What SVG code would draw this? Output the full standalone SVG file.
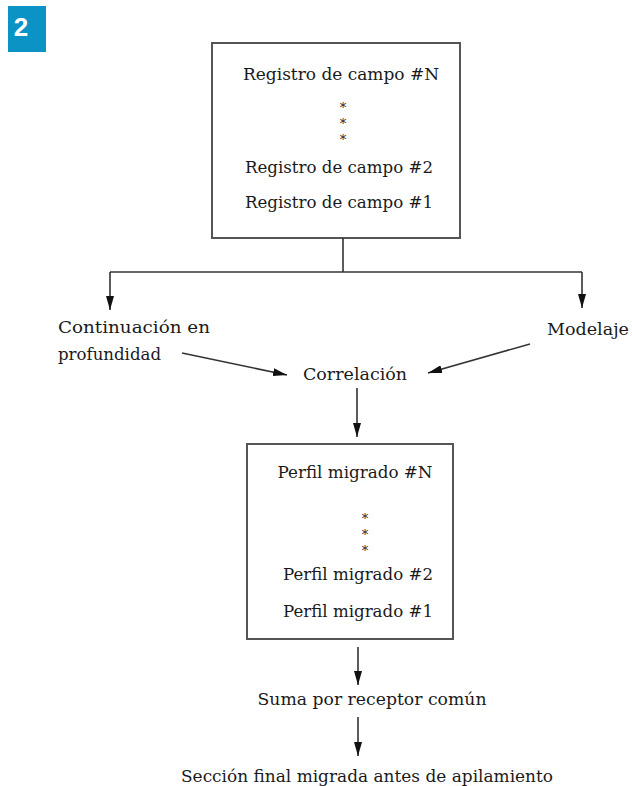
<svg xmlns="http://www.w3.org/2000/svg" width="632" height="786" viewBox="0 0 632 786">
<style>
.t{font-family:"DejaVu Serif","Liberation Serif",serif;font-size:16.5px;fill:#1a1a1a}
.c{text-anchor:middle}
.box{fill:#fff;stroke:#555;stroke-width:2}
.ln{fill:none;stroke:#333;stroke-width:1.6}
.dot{font-family:"DejaVu Serif",serif;font-size:13px;fill:#1a1a1a;text-anchor:middle}
</style>
<defs>
<marker id="ah" viewBox="0 0 14 8" refX="14" refY="4" markerWidth="14" markerHeight="8" markerUnits="userSpaceOnUse" orient="auto">
<path d="M0,0 L14,4 L0,8 Z" fill="#111"/>
</marker>
</defs>
<rect width="632" height="786" fill="#fff"/>
<g id="badge">
<rect x="8" y="6" width="38" height="46" fill="#0a93c4"/>
<text x="21" y="36" font-family="Liberation Sans,Arial,sans-serif" font-weight="bold" font-size="26" fill="#fff" text-anchor="middle">2</text>
</g>
<g id="registros">
<rect class="box" x="212" y="43" width="248" height="195"/>
<text class="t c" x="341" y="80" textLength="196" lengthAdjust="spacingAndGlyphs">Registro de campo #N</text>
<text class="dot" x="343" y="112">*</text>
<text class="dot" x="343" y="128">*</text>
<text class="dot" x="343" y="144">*</text>
<text class="t c" x="339" y="173" textLength="188" lengthAdjust="spacingAndGlyphs">Registro de campo #2</text>
<text class="t c" x="339" y="208" textLength="188" lengthAdjust="spacingAndGlyphs">Registro de campo #1</text>
</g>
<g id="continuacion">
<text class="t" x="58" y="333" textLength="152" lengthAdjust="spacingAndGlyphs">Continuación en</text>
<text class="t" x="58" y="360" textLength="103" lengthAdjust="spacingAndGlyphs">profundidad</text>
</g>
<g id="modelaje">
<text class="t" x="547" y="335" textLength="82" lengthAdjust="spacingAndGlyphs">Modelaje</text>
</g>
<g id="correlacion">
<text class="t" x="303" y="380" textLength="104" lengthAdjust="spacingAndGlyphs">Correlación</text>
</g>
<g id="perfiles">
<rect class="box" x="247" y="444" width="206" height="195"/>
<text class="t c" x="355" y="478" textLength="155" lengthAdjust="spacingAndGlyphs">Perfil migrado #N</text>
<text class="dot" x="365" y="523">*</text>
<text class="dot" x="365" y="539">*</text>
<text class="dot" x="365" y="555">*</text>
<text class="t c" x="358" y="580" textLength="150" lengthAdjust="spacingAndGlyphs">Perfil migrado #2</text>
<text class="t c" x="358" y="617" textLength="150" lengthAdjust="spacingAndGlyphs">Perfil migrado #1</text>
</g>
<g id="suma">
<text class="t c" x="372" y="705" textLength="229" lengthAdjust="spacingAndGlyphs">Suma por receptor común</text>
</g>
<g id="seccion">
<text class="t c" x="367" y="782" textLength="372" lengthAdjust="spacingAndGlyphs">Sección final migrada antes de apilamiento</text>
</g>
<g id="connectors">
<path class="ln" d="M343,238 V272"/>
<path class="ln" d="M110,272 H582"/>
<path class="ln" d="M110,272 V310" marker-end="url(#ah)"/>
<path class="ln" d="M582,272 V308" marker-end="url(#ah)"/>
<path class="ln" d="M182,353 L287,375" marker-end="url(#ah)"/>
<path class="ln" d="M530,344 L428,373" marker-end="url(#ah)"/>
<path class="ln" d="M357,388 V437" marker-end="url(#ah)"/>
<path class="ln" d="M358,647 V685" marker-end="url(#ah)"/>
<path class="ln" d="M358,717 V756" marker-end="url(#ah)"/>
</g>
</svg>
